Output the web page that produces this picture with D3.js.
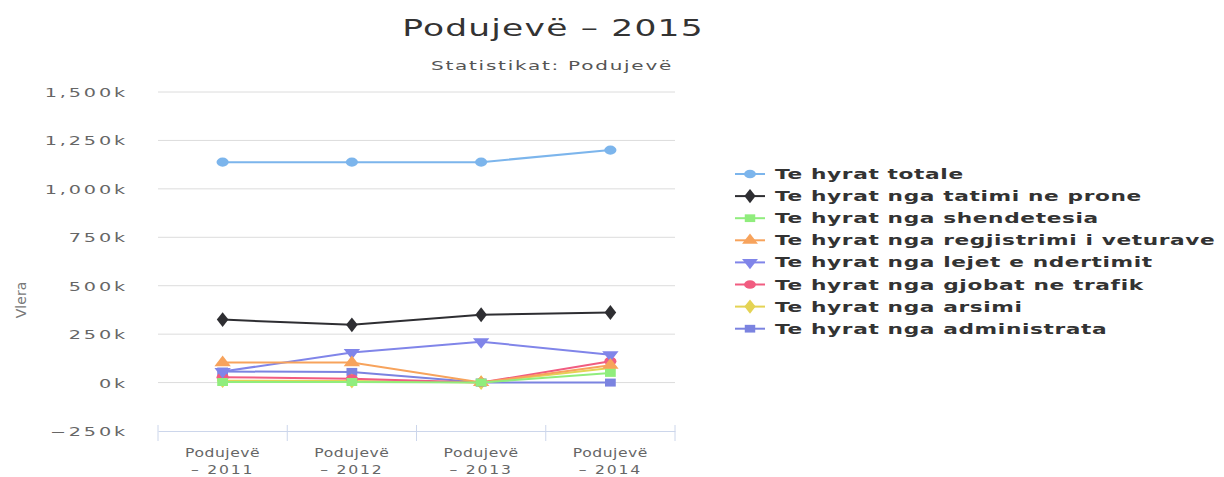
<!DOCTYPE html>
<html>
<head>
<meta charset="utf-8">
<script src="https://cdn.jsdelivr.net/npm/d3@7"></script>
<style>
  body { margin: 0; background: #fff; }
  text { font-family: "DejaVu Sans", sans-serif; }
</style>
</head>
<body>
<div id="chart"></div>
<script>
// categories and series (values in thousands)
const categories = ['Podujevë – 2011', 'Podujevë – 2012', 'Podujevë – 2013', 'Podujevë – 2014'];
const seriesNames = [
  'Te hyrat totale',
  'Te hyrat nga tatimi ne prone',
  'Te hyrat nga shendetesia',
  'Te hyrat nga regjistrimi i veturave',
  'Te hyrat nga lejet e ndertimit',
  'Te hyrat nga gjobat ne trafik',
  'Te hyrat nga arsimi',
  'Te hyrat nga administrata'
];
const totale      = [1138, 1138, 1138, 1200];
const tatimi      = [325, 298, 350, 362];
const shendetesia = [3, 3, 0, 50];
const regjistrimi = [103, 103, 0, 90];
const lejet       = [57, 155, 211, 144];
const gjobat      = [28, 20, 0, 110];
const arsimi      = [10, 8, 0, 75];
const administrata= [57, 55, 0, 0];
const yTicks = [-250, 0, 250, 500, 750, 1000, 1250, 1500];

const values = [totale, tatimi, shendetesia, regjistrimi, lejet, gjobat, arsimi, administrata];
const colors = ['#7cb5ec', '#2e2e32', '#90ed7d', '#f7a35c', '#8085e9', '#f15c80', '#e4d354', '#7b83e0'];
const symbols = [d3.symbolCircle, d3.symbolDiamond, d3.symbolSquare, d3.symbolTriangle,
                 'down', d3.symbolCircle, d3.symbolDiamond, d3.symbolSquare];

const W = 1224, H = 477;
const m = {left: 158, right: 675, top: 92, bottom: 431};

const svg = d3.select('#chart').append('svg').attr('width', W).attr('height', H);

const x = d3.scaleBand().domain(categories).range([m.left, m.right]);
const y = d3.scaleLinear().domain([-250, 1500]).range([m.bottom, m.top]);

// text that looks horizontally stretched, as in the picture
function wideText(parent, px, py, sx) {
  return parent.append('text').attr('transform', `translate(${px},${py}) scale(${sx},1)`);
}

// title & subtitle
wideText(svg, 553, 36, 1.5).attr('text-anchor', 'middle')
  .attr('font-size', 23).attr('fill', '#333').attr('letter-spacing', 0.8)
  .text('Podujevë – 2015');
wideText(svg, 552, 70, 1.6).attr('text-anchor', 'middle')
  .attr('font-size', 12.5).attr('fill', '#555').attr('letter-spacing', 1.1)
  .text('Statistikat: Podujevë');

// grid
svg.append('g').selectAll('line').data(yTicks.filter(d => d !== -250)).join('line')
  .attr('x1', m.left).attr('x2', m.right)
  .attr('y1', d => y(d)).attr('y2', d => y(d))
  .attr('stroke', '#dcdcdc').attr('stroke-width', 1);

// y labels
const gy = svg.append('g');
yTicks.forEach(t => {
  wideText(gy, 128, y(t) + 5, 1.6).attr('text-anchor', 'end')
    .attr('font-size', 12).attr('fill', '#666').attr('letter-spacing', 1.8)
    .text(d3.format(',')(t).replace('-', '−') + 'k');
});

svg.append('text').attr('transform', 'translate(26,300) rotate(-90)')
  .attr('text-anchor', 'middle').attr('font-size', 14).attr('fill', '#777')
  .attr('font-family', 'Liberation Sans Narrow, Liberation Sans, sans-serif')
  .text('Vlera');

// x axis
const xAxis = d3.axisBottom(x).tickSize(0).tickFormat('');
const gx = svg.append('g').attr('transform', `translate(0,${m.bottom})`).call(xAxis);
gx.select('.domain').attr('stroke', '#ccd6eb');
const tickPos = categories.map(c => x(c)).concat([m.right]);
svg.append('g').selectAll('line').data(tickPos).join('line')
  .attr('x1', d => d).attr('x2', d => d)
  .attr('y1', m.bottom - 6).attr('y2', m.bottom + 10)
  .attr('stroke', '#ccd6eb');
const gxl = svg.append('g');
categories.forEach(c => {
  const cx = x(c) + x.bandwidth() / 2;
  const [a, b] = c.split(' – ');
  wideText(gxl, cx, 457, 1.3).attr('text-anchor', 'middle')
    .attr('font-size', 12).attr('fill', '#666').attr('letter-spacing', 0.4).text(a);
  wideText(gxl, cx, 474, 1.3).attr('text-anchor', 'middle')
    .attr('font-size', 12).attr('fill', '#666').attr('letter-spacing', 1.4).text('– ' + b);
});

function symPath(s, size) {
  if (s === 'down') return d3.symbol(d3.symbolTriangle, size)().replace(/(-?[\d.]+),(-?[\d.]+)/g, (a, px, py) => `${px},${-py}`);
  return d3.symbol(s, size)();
}

// lines (drawn back to front so totale ends on top)
const line = d3.line().x((d, i) => x(categories[i]) + x.bandwidth() / 2).y(d => y(d));
const order = [7, 6, 5, 4, 3, 2, 1, 0];
order.forEach(si => {
  const g = svg.append('g');
  g.append('path').attr('d', line(values[si])).attr('fill', 'none')
    .attr('stroke', colors[si]).attr('stroke-width', 2);
  g.selectAll('path.pt').data(values[si]).join('path').attr('class', 'pt')
    .attr('transform', (d, i) => `translate(${x(categories[i]) + x.bandwidth() / 2},${y(d)}) scale(1.35,1)`)
    .attr('d', symPath(symbols[si], 64)).attr('fill', colors[si]);
});

// legend
const lg = svg.append('g').selectAll('g').data(seriesNames).join('g')
  .attr('transform', (d, i) => `translate(735,${174 + i * 22.1})`);
lg.append('line').attr('x1', 0).attr('x2', 30).attr('stroke', (d, i) => colors[i]).attr('stroke-width', 2);
lg.append('path').attr('transform', 'translate(15,0) scale(1.35,1)')
  .attr('d', (d, i) => symPath(symbols[i], 60)).attr('fill', (d, i) => colors[i]);
lg.append('text').attr('transform', 'translate(40,5) scale(1.55,1)')
  .attr('font-size', 14).attr('font-weight', 'bold')
  .attr('fill', '#333').attr('letter-spacing', 0.4).text(d => d);
</script>
</body>
</html>
